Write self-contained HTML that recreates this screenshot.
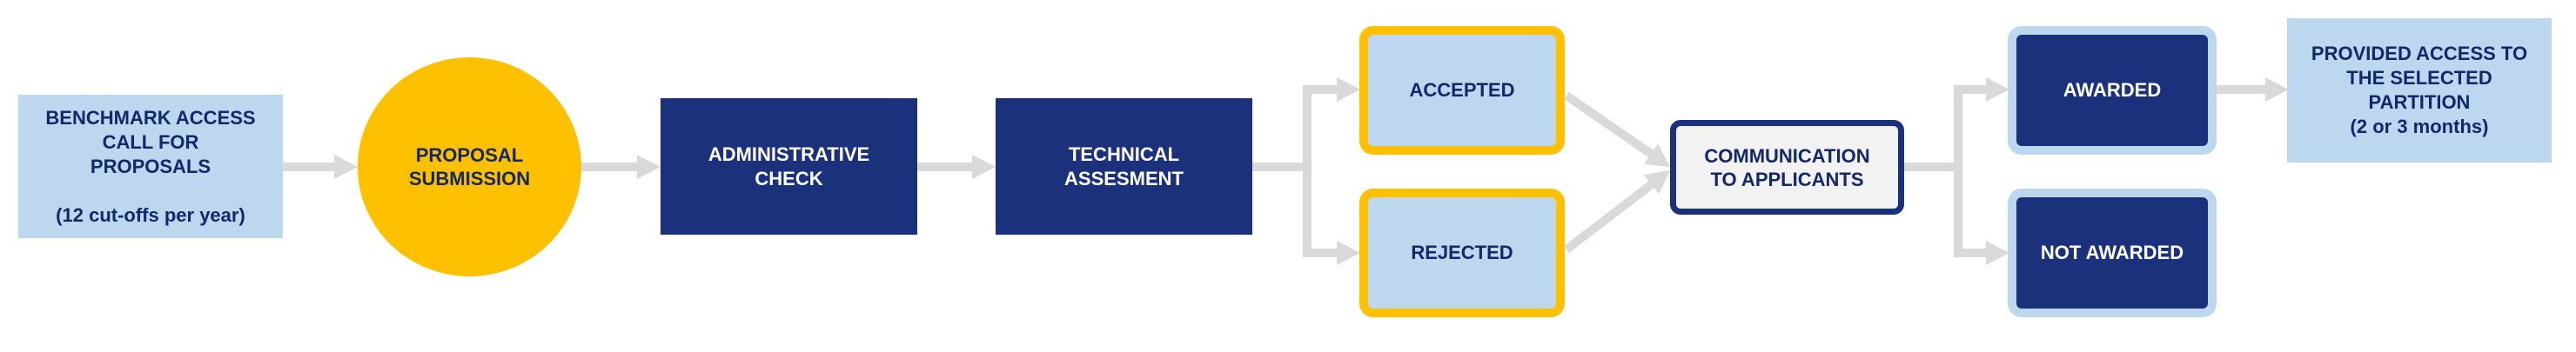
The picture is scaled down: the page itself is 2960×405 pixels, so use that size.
<!DOCTYPE html>
<html><head><meta charset="utf-8"><style>
body{margin:0;width:2960px;height:405px;background:#fff;position:relative;overflow:hidden;font-family:"Liberation Sans",Arial,sans-serif;font-weight:bold;}
.b{position:absolute;display:flex;align-items:center;justify-content:center;text-align:center;font-size:22px;line-height:28px;box-sizing:border-box;}
.lb{background:#bdd7ee;color:#13286b;}
.nv{background:#1b317b;color:#fff;}
svg{position:absolute;left:0;top:0;}
</style></head><body>
<svg width="2960" height="405">
<g fill="#d9d9d9">
<polygon points="325,187 384,187 384,178 411,192 384,206 384,197 325,197"/>
<polygon points="668,187 732,187 732,178 759,192 732,206 732,197 668,197"/>
<polygon points="1054,187 1117,187 1117,178 1144,192 1117,206 1117,197 1054,197"/>
<rect x="1439" y="187" width="68" height="10"/>
<rect x="1497" y="98" width="10" height="198"/>
<polygon points="1497,98 1536,98 1536,89 1563,103 1536,117 1536,108 1497,108"/>
<polygon points="1497,286 1536,286 1536,277 1563,291 1536,305 1536,296 1497,296"/>
<g transform="translate(1800,110) rotate(34.6)"><polygon points="0,-5 118,-5 118,-14 145,0 118,14 118,5 0,5"/></g>
<g transform="translate(1800,287) rotate(-37.4)"><polygon points="0,-5 123,-5 123,-14 150,0 123,14 123,5 0,5"/></g>
<rect x="2188" y="187" width="67" height="10"/>
<rect x="2245" y="98" width="10" height="198"/>
<polygon points="2245,98 2282,98 2282,89 2309,103 2282,117 2282,108 2245,108"/>
<polygon points="2245,286 2282,286 2282,277 2309,291 2282,305 2282,296 2245,296"/>
<polygon points="2547,98 2603,98 2603,89 2630,103 2603,117 2603,108 2547,108"/>
</g>
</svg>
<div class="b lb" style="left:21px;top:109px;width:304px;height:165px;">BENCHMARK ACCESS<br>CALL FOR<br>PROPOSALS<br><br>(12 cut-offs per year)</div>
<div class="b" style="left:411px;top:66px;width:257px;height:252px;border-radius:50%;background:#ffc000;color:#13286b;line-height:27px;">PROPOSAL<br>SUBMISSION</div>
<div class="b nv" style="left:759px;top:113px;width:295px;height:157px;">ADMINISTRATIVE<br>CHECK</div>
<div class="b nv" style="left:1144px;top:113px;width:295px;height:157px;">TECHNICAL<br>ASSESMENT</div>
<div class="b lb" style="left:1562px;top:30px;width:236px;height:148px;border:10px solid #ffc000;border-radius:16px;">ACCEPTED</div>
<div class="b lb" style="left:1562px;top:217px;width:236px;height:148px;border:10px solid #ffc000;border-radius:16px;">REJECTED</div>
<div class="b" style="left:1919px;top:138px;width:269px;height:109px;border:7px solid #1b317b;border-radius:12px;background:#f2f2f2;color:#13286b;line-height:27px;">COMMUNICATION<br>TO APPLICANTS</div>
<div class="b nv" style="left:2307px;top:30px;width:240px;height:148px;border:10px solid #bdd7ee;border-radius:16px;">AWARDED</div>
<div class="b nv" style="left:2307px;top:217px;width:240px;height:148px;border:10px solid #bdd7ee;border-radius:16px;">NOT AWARDED</div>
<div class="b lb" style="left:2628px;top:21px;width:304px;height:166px;">PROVIDED ACCESS TO<br>THE SELECTED<br>PARTITION<br>(2 or 3 months)</div>
</body></html>
